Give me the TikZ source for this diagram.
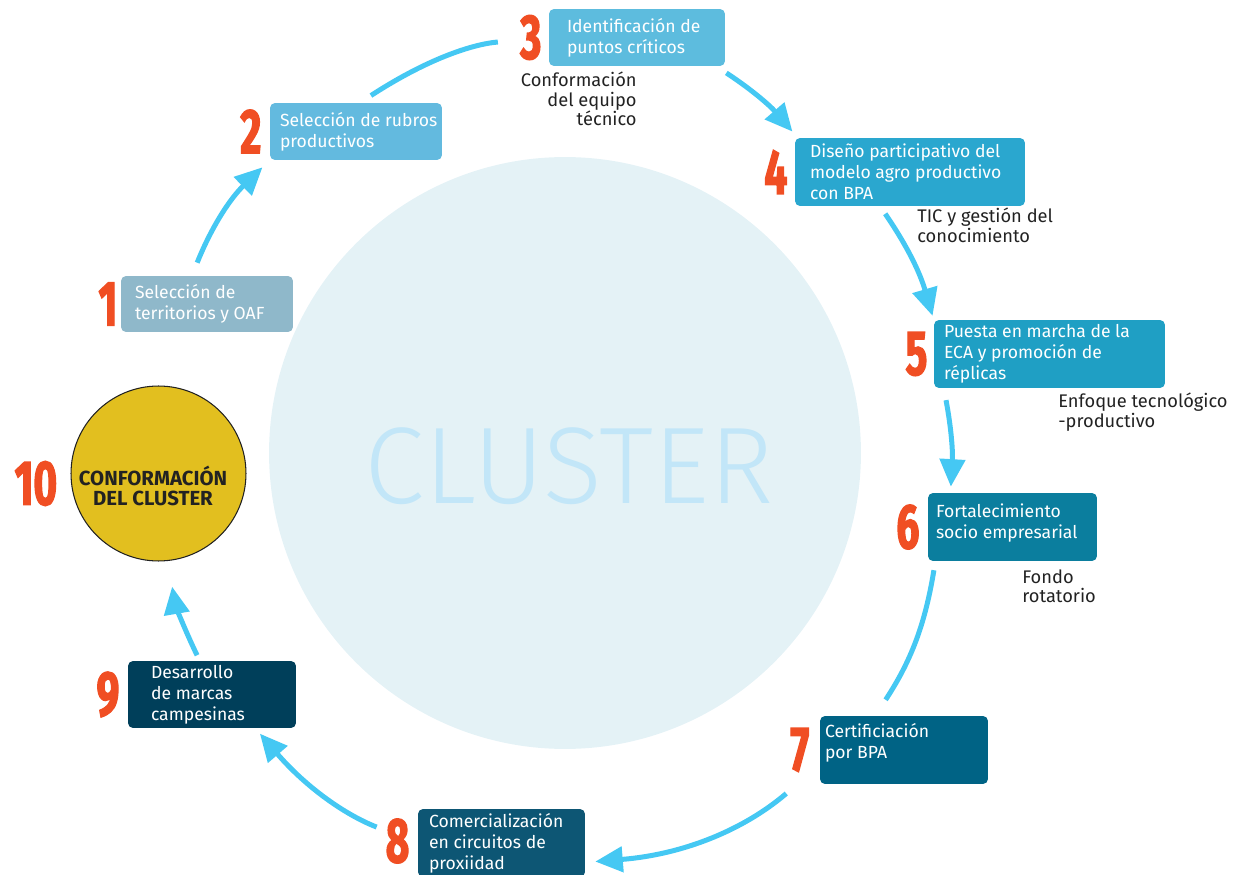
\documentclass[tikz,border=0pt]{standalone}
\usepackage{fontspec}
\setmainfont{Fira Sans}
\newfontfamily\numfont{Fira Sans}[FakeStretch=0.64,FakeBold=2]
\newfontfamily\lightfont{Fira Sans Light}
\usetikzlibrary{positioning,arrows.meta}

\definecolor{numorange}{HTML}{F04E23}
\definecolor{flowblue}{HTML}{45C8F3}
\definecolor{clusterbg}{HTML}{E4F2F6}
\definecolor{clustertext}{HTML}{C2E6F8}
\definecolor{notegray}{HTML}{222222}
\definecolor{goldfill}{HTML}{E2BF1F}
\definecolor{stepA}{HTML}{8FB8CA}
\definecolor{stepB}{HTML}{63BADF}
\definecolor{stepC}{HTML}{5DBCDE}
\definecolor{stepD}{HTML}{2AA7CF}
\definecolor{stepE}{HTML}{1F9FC4}
\definecolor{stepF}{HTML}{0B7E9E}
\definecolor{stepG}{HTML}{006385}
\definecolor{stepH}{HTML}{0D5674}
\definecolor{stepI}{HTML}{003F5A}

\begin{document}
\begin{tikzpicture}[x=0.02cm,y=-0.02cm,
  stepbox/.style={rounded corners=0.1cm, inner sep=0pt},
  boxtext/.style={text=white, align=left, inner sep=0pt, font=\fontsize{10}{12}\selectfont},
  num/.style={text=numorange, inner sep=0pt, font=\numfont\bfseries\fontsize{36}{36}\selectfont},
  note/.style={text=notegray, inner sep=0pt, font=\fontsize{10.4}{10.9}\selectfont},
  flow/.style={draw=flowblue, line width=0.1cm, -{Triangle[length=0.55cm,width=0.5cm]}},
  flowplain/.style={draw=flowblue, line width=0.1cm}]
\useasboundingbox (0,0) rectangle (1242,875);

% central circle
\node[circle, fill=clusterbg, minimum size=11.84cm, inner sep=0pt] (core) at (565,453) {};
\node[text=clustertext, inner sep=0pt, font=\lightfont\fontsize{62}{62}\selectfont] (corelabel) at (569,466) {CLUSTER};

% steps
\node[stepbox, fill=stepA, minimum width=3.44cm, minimum height=1.12cm] (b1) at (207,304) {};
\node[boxtext, right=0.28cm of b1.west] (t1) {Selección de\\territorios y OAF};
\node[num, left=0.06cm of b1] (n1) {1};

\node[stepbox, fill=stepB, minimum width=3.44cm, minimum height=1.14cm] (b2) at (356,131.5) {};
\node[boxtext, right=0.2cm of b2.west] (t2) {Selección de rubros\\productivos};
\node[num, left=0.16cm of b2] (n2) {2};

\node[stepbox, fill=stepC, minimum width=3.52cm, minimum height=1.14cm] (b3) at (637,37.5) {};
\node[boxtext, right=0.36cm of b3.west] (t3) {Identificación de\\puntos críticos};
\node[num, left=0.14cm of b3] (n3) {3};

\node[stepbox, fill=stepD, minimum width=4.6cm, minimum height=1.36cm] (b4) at (910,172) {};
\node[boxtext, right=0.3cm of b4.west] (t4) {Diseño participativo del\\modelo agro productivo\\con BPA};
\node[num, left=0.14cm of b4] (n4) {4};

\node[stepbox, fill=stepE, minimum width=4.62cm, minimum height=1.36cm] (b5) at (1049.5,354) {};
\node[boxtext, right=0.2cm of b5.west] (t5) {Puesta en marcha de la\\ECA y promoción de\\réplicas};
\node[num, left=0.12cm of b5] (n5) {5};

\node[stepbox, fill=stepF, minimum width=3.38cm, minimum height=1.36cm] (b6) at (1012.5,527) {};
\node[boxtext, right=0.16cm of b6.west, yshift=0.08cm] (t6) {Fortalecimiento\\socio empresarial};
\node[num, left=0.16cm of b6] (n6) {6};

\node[stepbox, fill=stepG, minimum width=3.36cm, minimum height=1.36cm] (b7) at (904,750) {};
\node[boxtext, right=0.1cm of b7.west, yshift=0.14cm] (t7) {Certificiación\\por BPA};
\node[num, left=0.2cm of b7] (n7) {7};

\node[stepbox, fill=stepH, minimum width=3.34cm, minimum height=1.36cm] (b8) at (501.5,843) {};
\node[boxtext, right=0.22cm of b8.west] (t8) {Comercialización\\en circuitos de\\proxiidad};
\node[num, left=0.16cm of b8, yshift=0.04cm] (n8) {8};

\node[stepbox, fill=stepI, minimum width=3.36cm, minimum height=1.34cm] (b9) at (212,694.5) {};
\node[boxtext, right=0.46cm of b9.west] (t9) {Desarrollo\\de marcas\\campesinas};
\node[num, left=0.16cm of b9] (n9) {9};

% goal
\node[circle, draw=notegray, line width=0.6pt, fill=goldfill, minimum size=3.5cm, inner sep=0pt] (c10) at (158.5,473.5) {};
\node[align=center, text=notegray, inner sep=0pt, font=\bfseries\fontsize{11.6}{11.6}\selectfont] (c10label) at (153,486) {CONFORMACIÓN\\DEL CLUSTER};
\node[num, left=0.26cm of c10, yshift=-0.2cm] (n10) {10};

% side notes
\node[note, align=right, anchor=north east] (s3) at (637,72) {Conformación\\del equipo\\técnico};
\node[note, align=left, anchor=north west] (s4) at (917,208) {TIC y gestión del\\conocimiento};
\node[note, align=left, anchor=north west] (s5) at (1058,393) {Enfoque tecnológico\\-productivo};
\node[note, align=left, anchor=north west] (s6) at (1022,569) {Fondo\\rotatorio};

% cycle
\draw[flow, shorten <=0.28cm, shorten >=0.2cm] (b1.118) to[bend left=12] (b2.south west);
\draw[flowplain, shorten <=0.26cm, shorten >=1.02cm] (b2.82) to[bend left=14] (b3.west);
\draw[flow, shorten <=0.24cm, shorten >=0.16cm] (b3.-20) to[bend left=8] (b4.163);
\draw[flow, shorten <=0.18cm, shorten >=0.08cm] (b4.229) to[bend left=9] (b5.north west);
\draw[flow, shorten <=0.24cm, shorten >=0.12cm] (b5.198) to[bend left=7] (b6.151);
\draw[flowplain, shorten <=0.18cm, shorten >=0.38cm] (b6.204) to[bend left=12] (b7.130);
\draw[flow, shorten <=0.88cm, shorten >=0.2cm] (b7.190) to[bend left=18] (b8.-13);
\draw[flow, shorten <=0.88cm, shorten >=0.14cm] (b8.west) to[bend left=14] (b9.-38);
\draw[flow, shorten <=0.12cm, shorten >=0.52cm] (b9.110) to[bend left=8] (c10.-84);
\end{tikzpicture}
\end{document}
